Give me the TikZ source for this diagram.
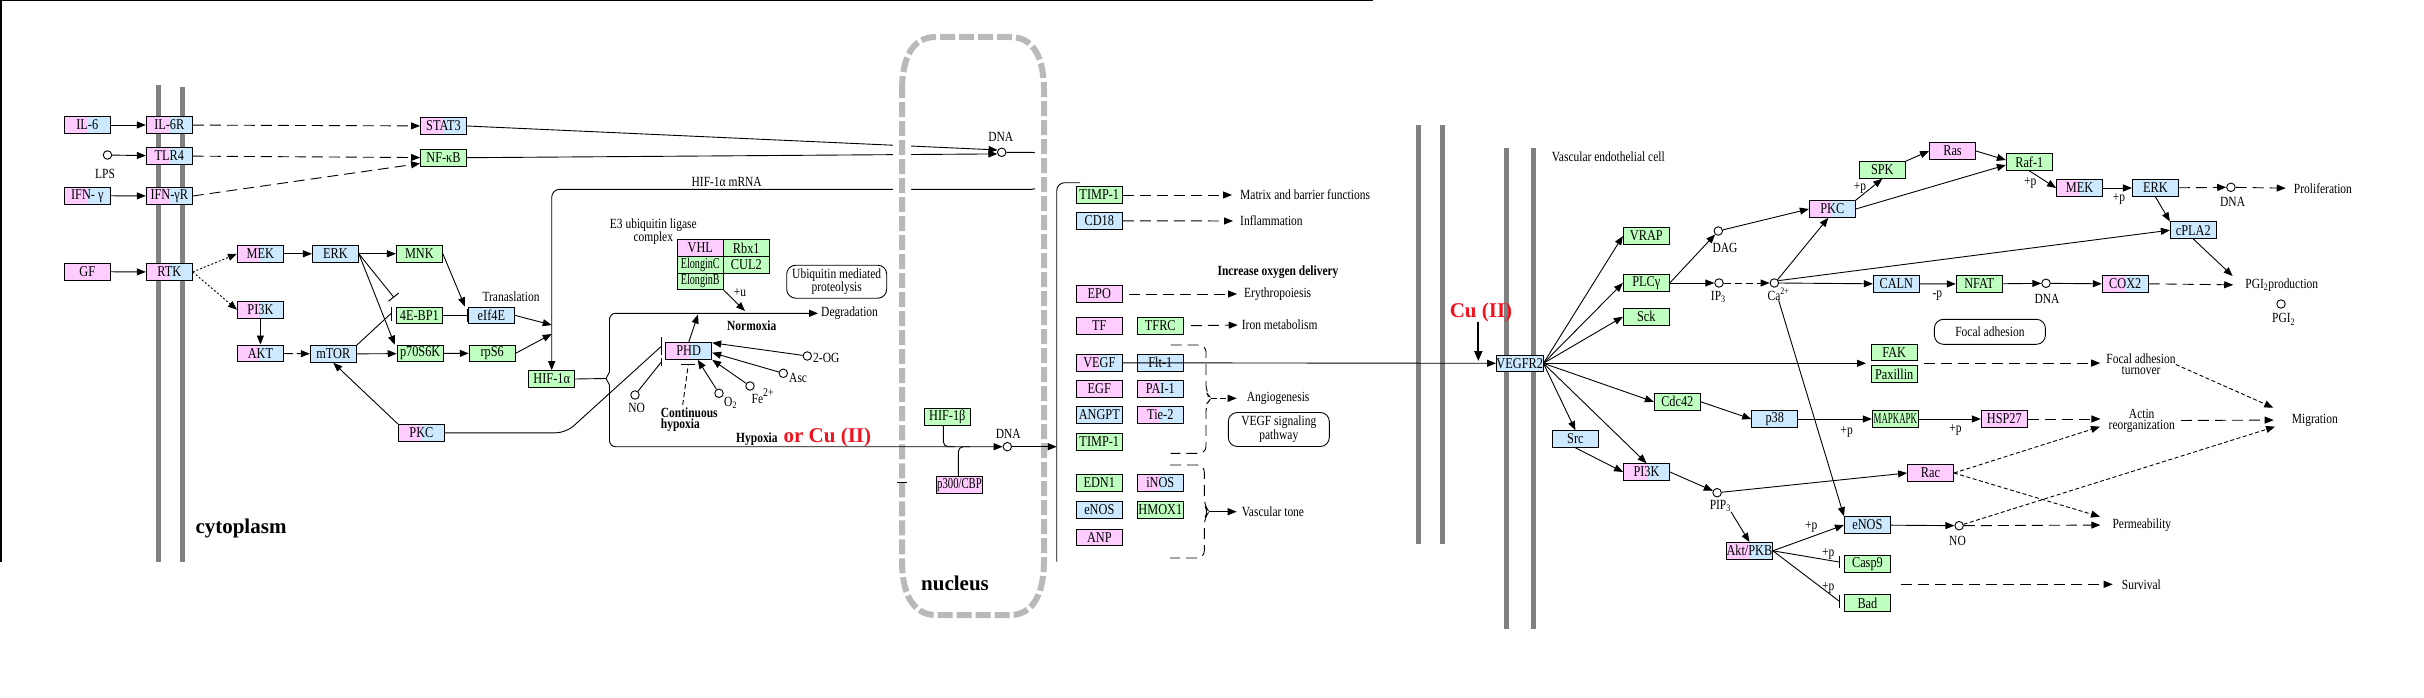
\documentclass[tikz,border=0pt]{standalone}
\usepackage{fontspec}
\setmainfont{Liberation Serif}[FakeStretch=0.82]
\newfontfamily\bigserif{Liberation Serif}
\usepackage{graphicx}
\usetikzlibrary{arrows.meta}
\definecolor{kgreen}{RGB}{191,255,191}
\definecolor{kpink}{RGB}{255,204,255}
\definecolor{kblue}{RGB}{204,233,255}
\definecolor{memgray}{RGB}{128,128,128}
\definecolor{nucgray}{RGB}{185,185,185}
\definecolor{cured}{RGB}{240,20,30}
\newcommand{\sq}[2]{\scalebox{#1}[1]{#2}}
\begin{document}
\begin{tikzpicture}[x=1pt,y=-1pt,
 gene/.style={draw, line width=0.9pt, minimum width=46pt, minimum height=16.7pt, inner sep=0pt, font=\fontsize{15}{15}\selectfont},
 gr/.style={gene, fill=kgreen},
 pk/.style={gene, fill=kpink},
 bl/.style={gene, fill=kblue},
 pb/.style={gene, fill=kblue, path picture={\fill[kpink] (path picture bounding box.south west) rectangle (path picture bounding box.north);}},
 mol/.style={circle, draw, line width=0.9pt, fill=white, minimum size=8.5pt, inner sep=0pt},
 lab/.style={inner sep=0pt, font=\fontsize{14}{11}\selectfont, align=center},
 blab/.style={inner sep=0pt, font=\fontsize{14}{11}\selectfont\bfseries, align=left},
 biglab/.style={inner sep=0pt, font=\bigserif\fontsize{21}{21}\selectfont\bfseries},
 maplink/.style={draw, line width=0.9pt, rounded corners=9pt, inner sep=0pt, font=\fontsize{14}{11}\selectfont, align=center},
 ln/.style={line width=0.9pt},
 arr/.style={ln, -{Triangle[length=9pt,width=7pt]}},
 inh/.style={ln, -{Bar[width=13pt,line width=1pt]}},
 dsh/.style={dash pattern=on 11pt off 6pt},
 fdsh/.style={dash pattern=on 4pt off 2.5pt},
 dotl/.style={dash pattern=on 2pt off 2pt},
 membar/.style={fill=memgray}
]
\useasboundingbox (0,0) rectangle (2424,698);
% frame
\draw[line width=1.5pt] (0,0.75) -- (1373,0.75);
\draw[line width=1.5pt] (0.75,0) -- (0.75,562);
% membranes
\fill[membar] (156.1,84.6) rectangle (161.1,562);
\fill[membar] (179.9,86.7) rectangle (184.8,562);
\fill[membar] (1416,124.7) rectangle (1421,544);
\fill[membar] (1440,124.7) rectangle (1445,544);
\fill[membar] (1504,148.3) rectangle (1509,628.7);
\fill[membar] (1531,148.3) rectangle (1536,628.7);

% ---------------- left cell nodes
\node[pb] (IL6) at (87.3,125) {IL-6};
\node[pb] (IL6R) at (169.3,125) {IL-6R};
\node[pb] (STAT3) at (443.5,126) {STAT3};
\node[mol] (LPS) at (107.5,155) {};
\node[lab] (LPSl) at (105,174) {LPS};
\node[pb] (TLR4) at (169.3,156) {TLR4};
\node[gr] (NFkB) at (443.5,157.7) {NF-κB};
\node[pb] (IFNg) at (87.3,195.7) {IFN- γ};
\node[pb] (IFNgR) at (169.3,196) {IFN-γR};
\node[pk] (GF) at (87.3,271.7) {GF};
\node[pb] (RTK) at (169.3,272) {RTK};
\node[pb] (MEK) at (260.4,253.8) {MEK};
\node[bl] (ERK) at (335.4,253.8) {ERK};
\node[gr] (MNK) at (419.4,253.8) {MNK};
\node[pb] (PI3K) at (260.4,309.7) {PI3K};
\node[pb] (AKT) at (260.4,353.3) {AKT};
\node[bl] (mTOR) at (333.3,354) {mTOR};
\node[gr] (EBP) at (419.4,315.3) {4E-BP1};
\node[bl] (eIF) at (491.4,315.3) {eIf4E};
\node[gr] (p70) at (420.2,353.5) {p70S6K};
\node[gr] (rpS6) at (492.2,353.3) {rpS6};
\node[gr] (HIF1a) at (551.7,379) {HIF-1α};
\node[pb] (PKCl) at (421.4,432.8) {PKC};
\node[lab] (transl) at (511,297) {Tranaslation};
\node[biglab] (cyto) at (241,528) {cytoplasm};
\node[lab] (mrna) at (726.7,181.7) {HIF-1α mRNA};

% E3 complex
\node[lab] (E3l) at (653.3,231.5) {E3 ubiquitin ligase\\complex};
\node[pk] (VHL) at (700.3,248) {VHL};
\node[gr] (Rbx1) at (746.3,248) {Rbx1};
\node[gr] (ElC) at (700.3,264.7) {\sq{0.82}{ElonginC}};
\node[gr] (CUL2) at (746.3,264.7) {CUL2};
\node[gr] (ElB) at (700.3,281.4) {\sq{0.82}{ElonginB}};
\node[maplink, minimum width=100pt, minimum height=33pt] (ubq) at (836.7,281.7) {Ubiquitin mediated\\proteolysis};
\node[lab, anchor=west] (degr) at (821,313.3) {Degradation};
\node[blab] (normox) at (751.7,325.7) {Normoxia};
\node[lab] (plusu) at (740,292.7) {+u};
\node[pb] (PHD) at (688.7,351) {PHD};
\node[mol] (OG) at (807.3,356) {};
\node[lab, anchor=west] (OGl) at (813,358) {2-OG};
\node[mol] (Asc) at (783.3,373.3) {};
\node[lab, anchor=west] (Ascl) at (789,378.3) {Asc};
\node[mol] (Fe) at (750,386) {};
\node[lab, anchor=base west] (Fel) at (751.5,403) {Fe\raisebox{7pt}{\fontsize{12}{12}\selectfont 2+}};
\node[mol] (O2) at (719,393.3) {};
\node[lab, anchor=base west] (O2l) at (724,406.5) {O\textsubscript{2}};
\node[mol] (NO1) at (635,395) {};
\node[lab] (NO1l) at (636.7,408) {NO};
\node[blab, anchor=west] (conthyp) at (660.7,419.5) {Continuous\\hypoxia};
\node[anchor=base west, inner sep=0pt] (hyp) at (736,442.5) {\fontsize{14}{14}\selectfont\bfseries Hypoxia\hspace{6pt}\textcolor{cured}{\bigserif\fontsize{21}{21}\selectfont\bfseries or Cu (II)}};

% nucleus content
\node[mol] (dna1) at (1001.7,152.3) {};
\node[lab] (dna1l) at (1000.7,136.7) {DNA};
\node[gr] (HIF1b) at (947.3,417) {HIF-1β};
\node[pk] (p300) at (959.5,485) {\sq{0.87}{p300/CBP}};
\node[mol] (dna2) at (1007.3,446.7) {};
\node[lab] (dna2l) at (1008.3,434.3) {DNA};
\node[biglab] (nucl) at (955,583) {nucleus};

% target genes
\node[gr] (TIMP1a) at (1099.3,195) {TIMP-1};
\node[bl] (CD18) at (1099.3,220.8) {CD18};
\node[pk] (EPO) at (1099.3,294) {EPO};
\node[pk] (TF) at (1099.3,325.8) {TF};
\node[gr] (TFRC) at (1160.3,325.8) {TFRC};
\node[pb] (VEGF) at (1099.3,362.8) {VEGF};
\node[bl] (Flt1) at (1160.3,362.8) {Flt-1};
\node[pk] (EGF) at (1099.3,388.7) {EGF};
\node[pb] (PAI1) at (1160.3,388.7) {PAI-1};
\node[bl] (ANGPT) at (1099.3,415) {ANGPT};
\node[pb] (Tie2) at (1160.3,415) {Tie-2};
\node[gr] (TIMP1b) at (1099.3,441.8) {TIMP-1};
\node[gr] (EDN1) at (1099.3,482.8) {EDN1};
\node[pb] (iNOS) at (1160.3,482.8) {iNOS};
\node[bl] (eNOSt) at (1099.3,510) {eNOS};
\node[gr] (HMOX1) at (1160.3,510) {HMOX1};
\node[pk] (ANP) at (1099.3,537.5) {ANP};
\node[lab, anchor=west] (matrix) at (1240,195) {Matrix and barrier functions};
\node[lab, anchor=west] (infl) at (1240,221) {Inflammation};
\node[blab] (incr) at (1278,271.7) {Increase oxygen delivery};
\node[lab, anchor=west] (eryth) at (1244,294) {Erythropoiesis};
\node[lab, anchor=west] (iron) at (1241.7,325) {Iron metabolism};
\node[lab, anchor=west] (angio) at (1246.7,398.3) {Angiogenesis};
\node[maplink, minimum width=101pt, minimum height=34pt] (vegfsp) at (1278.8,429.5) {VEGF signaling\\pathway};
\node[lab, anchor=west] (vasc) at (1241.7,511.7) {Vascular tone};

% ---------------- right cell nodes
\node[biglab, text=cured] (cu2) at (1481,312.7) {Cu (II)};
\node[bl] (VEGFR2) at (1519.7,363.3) {VEGFR2};
\node[lab, anchor=west] (vec) at (1551.7,156.7) {Vascular endothelial cell};
\node[gr] (VRAP) at (1646.3,236) {VRAP};
\node[gr] (PLC) at (1646.3,283) {PLCγ};
\node[gr] (Sck) at (1646.3,316.8) {Sck};
\node[mol] (dag) at (1718.3,231) {};
\node[lab] (dagl) at (1725,248.3) {DAG};
\node[mol] (ip3) at (1719,283) {};
\node[lab] (ip3l) at (1718.3,297.3) {IP\textsubscript{3}};
\node[mol] (ca) at (1774.3,283) {};
\node[lab, anchor=base west] (cal) at (1767.5,300) {Ca\textsuperscript{2+}};
\node[pb] (PKCr) at (1832.3,209) {PKC};
\node[gr] (SPK) at (1882.3,170) {SPK};
\node[lab] (p1) at (1860,188.3) {+p};
\node[bl] (CALN) at (1896.3,283.8) {CALN};
\node[gr] (NFAT) at (1979.2,284) {NFAT};
\node[lab] (mp) at (1937.4,295.7) {-p};
\node[mol] (dna4) at (2046,283.3) {};
\node[lab] (dna4l) at (2047,299) {DNA};
\node[pb] (COX2) at (2125.2,283.8) {COX2};
\node[pk] (Ras) at (1952.5,151) {Ras};
\node[gr] (Raf) at (2029.3,162) {Raf-1};
\node[pb] (MEKr) at (2079.5,188) {MEK};
\node[bl] (ERKr) at (2155.4,188) {ERK};
\node[lab] (p2) at (2030.3,183.3) {+p};
\node[lab] (p3) at (2118.9,199.3) {+p};
\node[mol] (dna3) at (2230.9,187.3) {};
\node[lab] (dna3l) at (2232.6,201.7) {DNA};
\node[lab, anchor=west] (prolif) at (2293.7,188.3) {Proliferation};
\node[bl] (cPLA2) at (2193.3,230.2) {cPLA2};
\node[lab, anchor=west] (pgiprod) at (2245.2,285) {PGI\textsubscript{2}production};
\node[mol] (pgi) at (2281,304) {};
\node[lab] (pgil) at (2283.7,319.3) {PGI\textsubscript{2}};
\node[maplink, minimum width=111pt, minimum height=25pt] (focal) at (1989.9,331.8) {Focal adhesion};
\node[gr] (FAK) at (1894.2,352.3) {FAK};
\node[gr] (Pax) at (1894.2,374) {Paxillin};
\node[lab] (fat) at (2141,364.5) {Focal adhesion\\turnover};
\node[gr] (Cdc42) at (1677.3,401.8) {Cdc42};
\node[bl] (p38) at (1774.7,419) {p38};
\node[gr] (MAPK) at (1895.3,419) {\sq{0.72}{MAPKAPK}};
\node[pk] (HSP27) at (2004.3,419) {HSP27};
\node[lab] (p4) at (1846.8,431.7) {+p};
\node[lab] (p5) at (1955.5,430) {+p};
\node[lab] (actin) at (2141.7,420.5) {Actin\\reorganization};
\node[lab, anchor=west] (migr) at (2291.7,420) {Migration};
\node[bl] (Src) at (1575.4,439) {Src};
\node[pb] (PI3Kr) at (1646.5,472) {PI3K};
\node[mol] (pip3) at (1717.1,492.7) {};
\node[lab] (pip3l) at (1720.3,506) {PIP\textsubscript{3}};
\node[pk] (Rac) at (1930.5,473) {Rac};
\node[pb] (Akt) at (1749.4,550.8) {Akt/PKB};
\node[bl] (eNOSr) at (1867.4,525) {eNOS};
\node[mol] (no2) at (1959.1,525.7) {};
\node[lab] (no2l) at (1957.5,540.7) {NO};
\node[gr] (Casp9) at (1867.4,564) {Casp9};
\node[gr] (Bad) at (1867.4,603) {Bad};
\node[lab] (p6) at (1811.2,526.7) {+p};
\node[lab] (p7) at (1828.2,554) {+p};
\node[lab] (p8) at (1828.2,588.3) {+p};
\node[lab, anchor=west] (perm) at (2112.3,525) {Permeability};
\node[lab, anchor=west] (surv) at (2121.7,584.3) {Survival};

% coordinates
\coordinate (j1) at (551.7,325);
\coordinate (j2) at (551.7,334);
\coordinate (mr) at (551.7,189.3);
\coordinate (mEB) at (391,313.5);
\coordinate (bt) at (606,378.5);
\coordinate (bu) at (609.5,372);
\coordinate (bd) at (609.5,385);
\coordinate (brk) at (1056.7,446.7);
\coordinate (deg1) at (698,314.5);
\coordinate (uarr) at (745,311);
\coordinate (pkcbar) at (661.7,346);
\coordinate (nobar) at (661.7,361.5);
\coordinate (ch1) at (682.7,405);
\coordinate (ch2) at (688.3,364.5);
\coordinate (angtip) at (1211,398.3);
\coordinate (vtip) at (1209,511.7);
\coordinate (cutip) at (1478.3,361);
\coordinate (fakin) at (1866,363.3);
\coordinate (c9bar) at (1839,562);
\coordinate (badbar) at (1839,601);
\coordinate (sv1) at (1901.4,584.3);
\coordinate (mig1) at (2273.3,407.7);
\coordinate (mig2) at (2275,426.7);
\coordinate (act2) at (2100,426.7);
\coordinate (perm1) at (2100,516.7);

% ---------------- lines behind nucleus membrane
\draw[arr] (STAT3.east) -- (dna1.150);
\draw[arr] (NFkB.east) -- (dna1.200);
\draw[arr, rounded corners=8pt] (dna1.east) -- (1040,152.3) -- (1040,189.3) -- (mr) -- (HIF1a.north);

% nucleus
\def\nucpath{(902,91) .. controls (902,58) and (912,37) .. (936,37) -- (1010,37) .. controls (1034,37) and (1044,58) .. (1044,91) -- (1044,561) .. controls (1044,592) and (1034,615) .. (1010,615) -- (936,615) .. controls (912,615) and (902,592) .. (902,561) -- cycle}
\draw[white, line width=18pt] \nucpath;
\draw[nucgray, line width=6pt, dash pattern=on 15pt off 4pt] \nucpath;
\draw[ln] (897,482.3) -- (907,482.3);

% ---------------- left edges
\draw[arr] (IL6) -- (IL6R);
\draw[arr] (LPS) -- (TLR4);
\draw[arr] (IFNg) -- (IFNgR);
\draw[arr] (GF) -- (RTK);
\draw[arr,dsh] (IL6R) -- (STAT3);
\draw[arr,dsh] (TLR4) -- (NFkB);
\draw[arr,dsh] (IFNgR.east) -- ([yshift=3pt]NFkB.south west);
\draw[arr,dotl] (RTK.east) -- (MEK.west);
\draw[arr,dotl] (RTK.east) -- (PI3K.west);
\draw[arr] (MEK) -- (ERK);
\draw[arr] (ERK) -- (MNK);
\draw[inh] (ERK.east) -- ([shift={(-2pt,9pt)}]EBP.north west);
\draw[arr] (ERK.east) -- ([xshift=-2pt]p70.north west);
\draw[arr] (MNK.east) -- ([xshift=-3pt]eIF.north west);
\draw[inh] (EBP) -- (eIF);
\draw[arr] (PI3K) -- (AKT);
\draw[arr,dash pattern=on 9pt off 4pt] (AKT) -- (mTOR);
\draw[arr] (mTOR) -- (p70);
\draw[arr] (p70) -- (rpS6);
\draw[arr] (PKCl.north west) -- (mTOR.south);
\draw[ln] (mTOR.north east) -- (mEB);
\draw[line width=1pt] ([yshift=7pt]mEB) -- ([yshift=-7pt]mEB);
\draw[arr] (eIF.east) -- (j1);
\draw[arr] (rpS6.east) -- (j2);

% HIF brace and branches
\draw[ln] (HIF1a.east) -- (bt);
\draw[ln] (bu) -- (bt) -- (bd);
\draw[arr, rounded corners=6pt, shorten >=3pt] (bu) -- (609.5,313.3) -- (degr.west);
\draw[arr, rounded corners=6pt] (bd) -- (609.5,446.7) -- (dna2.west);
\draw[arr] (dna2.east) -- (brk);
\draw[ln, rounded corners=5pt] ([xshift=-4pt]HIF1b.south) |- (955,446.7);
\draw[ln, rounded corners=5pt] ([xshift=-1.2pt]p300.north) |- (970,446.7);
\draw[arr] (PHD.north) -- (deg1);
\draw[arr] (ElB.south east) -- (uarr);
\draw[arr] (OG) -- ([yshift=-0.6pt]PHD.north east);
\draw[arr] (Asc) -- ([yshift=-1.7pt]PHD.east);
\draw[arr] (Fe) -- (PHD.south east);
\draw[arr] (O2) -- ([xshift=9pt]PHD.south);
\draw[ln, dash pattern=on 5pt off 3pt] (ch1) -- (ch2);
\draw[line width=1pt] (681,364.3) -- (695,364.3);
\draw[ln, rounded corners=10pt] (PKCl.east) -- (566,432.8) -- (pkcbar);
\draw[line width=1pt] (661.7,337) -- (661.7,355);
\draw[ln] (NO1) -- (nobar);
\draw[line width=1pt] (661.7,357.5) -- (661.7,366);

% target bracket
\draw[ln, rounded corners=8pt] (1080,182.7) -- (1056.7,182.7) -- (1056.7,561.5);
\draw[arr,dsh,shorten >=8pt] (TIMP1a.east) -- (matrix.west);
\draw[arr,dsh,shorten >=7pt] (CD18.east) -- (infl.west);
\draw[arr,dsh,shorten <=6pt,shorten >=7pt] (EPO.east) -- (eryth.west);
\draw[arr,dsh,shorten <=7pt,shorten >=4pt] (TFRC.east) -- (iron.west);
\draw[ln,dsh,rounded corners=7pt] (1170.7,345) -- (1206,345) -- (1206,392) -- (angtip) -- (1206,404.6) -- (1206,453.3) -- (1170.7,453.3);
\draw[arr,dash pattern=on 6pt off 3pt,shorten >=10pt] (angtip) -- (angio.west);
\draw[ln,dsh,rounded corners=7pt] (1170,465) -- (1204.3,465) -- (1204.3,505.5) -- (vtip) -- (1204.3,518) -- (1204.3,558) -- (1170,558);
\draw[arr,shorten >=5pt] (vtip) -- (vasc.west);
\draw[arr] (VEGF.east) -- (VEGFR2.west);
\draw[line width=2pt, -{Triangle[length=10pt,width=8pt]}] ([xshift=-2.7pt]cu2.south) -- (cutip);

% ---------------- right edges
\draw[arr] (VEGFR2.east) -- (VRAP.west);
\draw[arr] (VEGFR2.east) -- (PLC.west);
\draw[arr] (VEGFR2.east) -- (Sck.west);
\draw[arr] (VEGFR2.east) -- (fakin);
\draw[arr] (VEGFR2.east) -- (Cdc42.west);
\draw[arr] (VEGFR2.east) -- (Src.north);
\draw[arr] (VEGFR2.east) -- (PI3Kr.north);
\draw[arr] (PLC.east) -- (dag);
\draw[arr] (PLC.east) -- (ip3);
\draw[arr,dash pattern=on 7pt off 4pt] (ip3) -- (ca);
\draw[arr] (dag) -- (PKCr.west);
\draw[arr] (ca.north east) -- ([xshift=-4pt]PKCr.south);
\draw[arr] (ca.east) -- (CALN.west);
\draw[arr] (ca.30) -- (cPLA2.west);
\draw[arr] (cal.south) -- (eNOSr.north west);
\draw[arr] (PKCr.north east) -- (SPK.south);
\draw[arr] (PKCr.east) -- ([yshift=-3pt]Raf.west);
\draw[arr] (SPK.north east) -- (Ras.west);
\draw[arr] (Ras.east) -- ([yshift=2pt]Raf.west);
\draw[arr] (Raf.south) -- (MEKr.west);
\draw[arr] (MEKr) -- (ERKr);
\draw[arr,dsh] (ERKr) -- (dna3);
\draw[arr,dsh,shorten >=8pt] (dna3) -- (prolif.west);
\draw[arr] (ERKr.south) -- (cPLA2.north west);
\draw[arr] (cPLA2.south) -- ([shift={(-12.6pt,9pt)}]pgiprod.west);
\draw[arr] (CALN) -- (NFAT);
\draw[arr] (NFAT) -- (dna4);
\draw[arr] (dna4) -- (COX2.west);
\draw[arr,dsh,shorten >=12pt] (COX2.east) -- (pgiprod.west);
\draw[arr,dsh,shorten <=6pt,shorten >=6pt] ([yshift=-2pt]FAK.south east) -- ([yshift=-2pt]FAK.south east -| fat.west);
\draw[arr,fdsh] (fat.east) -- (mig1);
\draw[arr] (Cdc42.east) -- (p38.west);
\draw[arr] (p38) -- (MAPK);
\draw[arr] (MAPK) -- (HSP27);
\draw[arr,dsh,shorten >=8pt] (HSP27.east) -- (HSP27.east -| actin.west);
\draw[arr,dsh,shorten <=6pt,shorten >=18pt] (actin.east) -- (migr.west);
\draw[arr] (Src.south) -- (PI3Kr.west);
\draw[arr] (PI3Kr.east) -- (pip3);
\draw[arr] (pip3) -- (Rac.west);
\draw[arr] (pip3l.south east) -- (Akt.north);
\draw[arr] (Akt.east) -- (eNOSr.west);
\draw[ln] (Akt.east) -- (c9bar);
\draw[line width=1pt] ([yshift=6pt]c9bar) -- ([yshift=-6pt]c9bar);
\draw[ln] (Akt.east) -- (badbar);
\draw[line width=1pt] ([yshift=6.5pt]badbar) -- ([yshift=-6.5pt]badbar);
\draw[arr] (eNOSr) -- (no2);
\draw[arr,fdsh] (Rac.east) -- (act2);
\draw[arr,fdsh] (Rac.east) -- (perm1);
\draw[arr,fdsh] (no2) -- (mig2);
\draw[arr,dsh,shorten >=12pt] (no2) -- (perm.west);
\draw[arr,dsh,shorten >=9pt] (sv1) -- (surv.west);
\end{tikzpicture}
\end{document}
